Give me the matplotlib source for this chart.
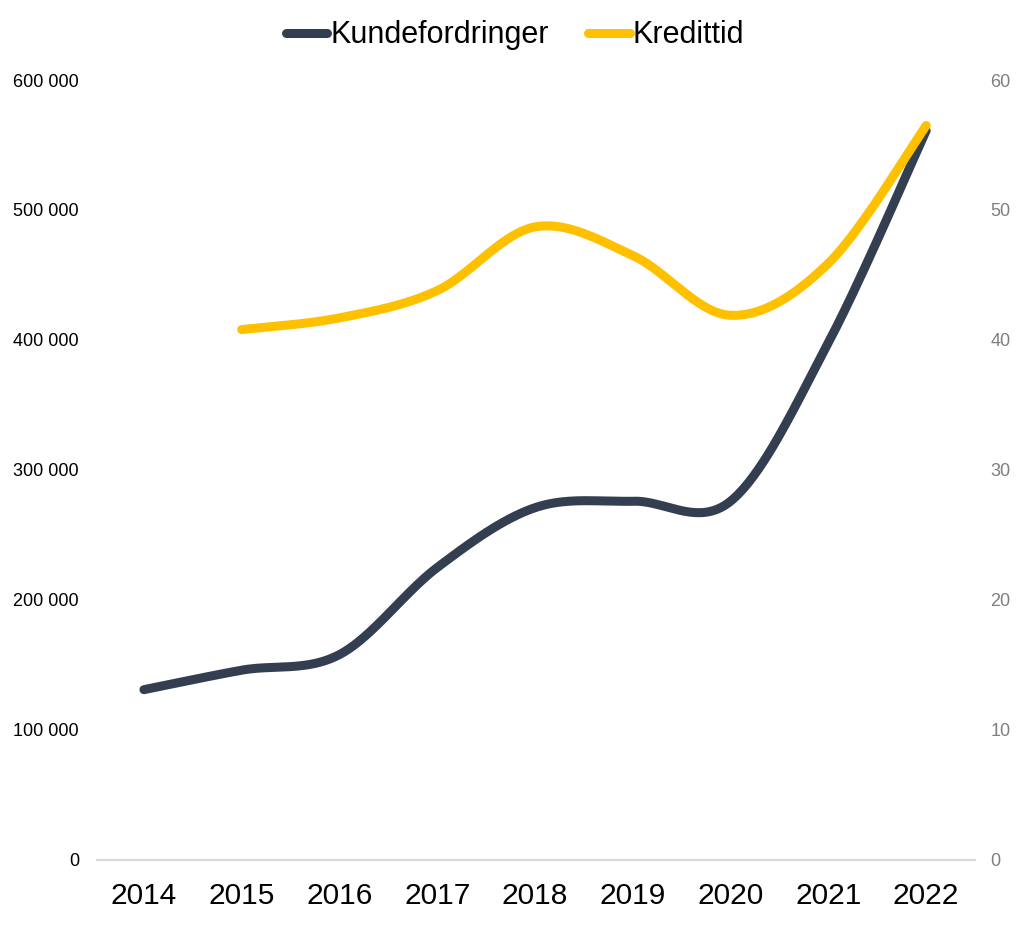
import numpy as np
import matplotlib.pyplot as plt
from matplotlib.lines import Line2D

plt.rcParams['font.family'] = ['Liberation Sans', 'DejaVu Sans']

years = ["2014", "2015", "2016", "2017", "2018", "2019", "2020", "2021", "2022"]
kundefordringer = [131000, 146000, 158000, 225000, 271000, 276000, 276000, 398000, 561000]
kredittid = [None, 40.8, 41.7, 43.8, 48.7, 46.5, 41.9, 45.9, 56.5]

navy = "#333F50"
yellow = "#FFC000"


def smooth(xs, ys, steps=40):
    # Excel-style smoothed line: cubic bezier through the points,
    # control handles from neighbouring points (tension 1/6)
    xs = np.asarray(xs, float)
    ys = np.asarray(ys, float)
    n = len(xs)
    out_x, out_y = [], []
    for i in range(n - 1):
        p0 = np.array([xs[max(i - 1, 0)], ys[max(i - 1, 0)]])
        p1 = np.array([xs[i], ys[i]])
        p2 = np.array([xs[i + 1], ys[i + 1]])
        p3 = np.array([xs[min(i + 2, n - 1)], ys[min(i + 2, n - 1)]])
        c1 = p1 + (p2 - p0) / 6
        c2 = p2 - (p3 - p1) / 6
        t = np.linspace(0, 1, steps)[:, None]
        b = (1 - t) ** 3 * p1 + 3 * (1 - t) ** 2 * t * c1 + 3 * (1 - t) * t ** 2 * c2 + t ** 3 * p2
        out_x.extend(b[:, 0])
        out_y.extend(b[:, 1])
    return np.array(out_x), np.array(out_y)


fig = plt.figure(figsize=(10.24, 9.27), dpi=100)
ax = fig.add_axes([0.0947, 0.0723, 0.8575, 0.8414])
ax2 = ax.twinx()

x = np.arange(len(years))
sx, sy = smooth(x, kundefordringer)
ax.plot(sx, sy, color=navy, lw=6.5, solid_capstyle='round')

kx = [i for i, v in enumerate(kredittid) if v is not None]
ky = [v for v in kredittid if v is not None]
sx2, sy2 = smooth(kx, ky)
ax2.plot(sx2, sy2, color=yellow, lw=6.5, solid_capstyle='round')

ax.set_xlim(-0.48, 8.5)
ax.set_ylim(0, 600000)
ax2.set_ylim(0, 60)

ax.set_xticks(x)
ax.set_xticklabels(years, fontsize=21.5)
yt = np.arange(0, 600001, 100000)
ax.set_yticks(yt)
ax.set_yticklabels([f"{v:,}".replace(",", " ") for v in yt], fontsize=13)
ax2.set_yticks(np.arange(0, 61, 10))
ax2.set_yticklabels([str(v) for v in range(0, 61, 10)], fontsize=13, color="#7F7F7F")

for a in (ax, ax2):
    for s in ("top", "left", "right"):
        a.spines[s].set_visible(False)
    a.spines["bottom"].set_visible(False)
    a.tick_params(length=0)
ax.spines["bottom"].set_visible(True)
ax.spines["bottom"].set_color("#D9D9D9")
ax.spines["bottom"].set_linewidth(1.5)
ax.tick_params(axis='x', pad=16)
ax.tick_params(axis='y', pad=13)
ax2.tick_params(axis='y', pad=11)

handles = [Line2D([0], [0], color=navy, lw=6.5, solid_capstyle='round'),
           Line2D([0], [0], color=yellow, lw=6.5, solid_capstyle='round')]
fig.legend(handles, ["Kundefordringer", "Kredittid"], loc="center", bbox_to_anchor=(0.503, 0.962),
           ncol=2, frameon=False, fontsize=22, handlelength=1.35, handletextpad=0.1,
           columnspacing=1.3)

fig.savefig("out.png", dpi=100)
